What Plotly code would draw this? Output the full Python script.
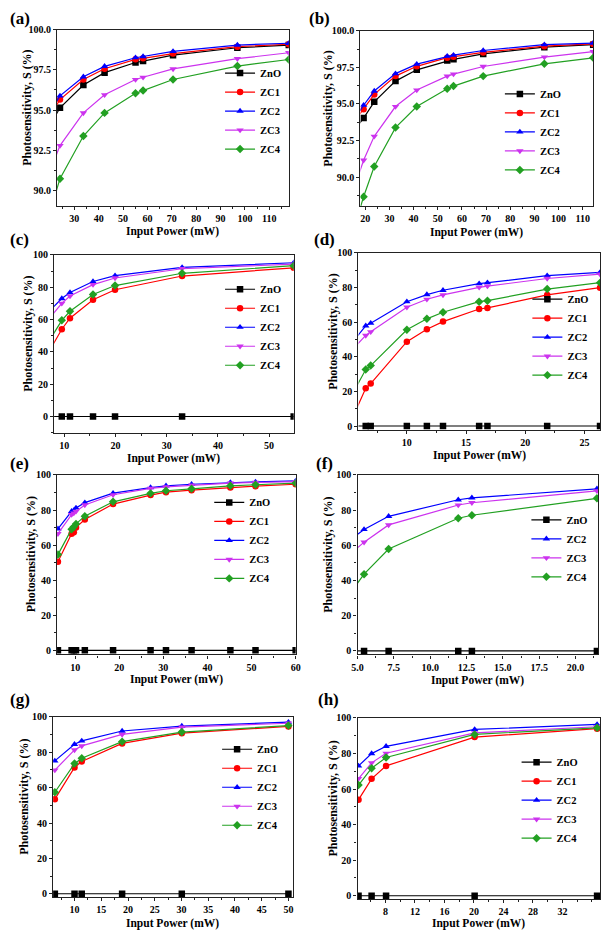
import plotly.graph_objects as go

W, H = 607, 935

series_names = ["ZnO", "ZC1", "ZC2", "ZC3", "ZC4"]
colors = ["#000000", "#FF0000", "#0000FF", "#CC33EE", "#22A022"]
symbols = ["square", "circle", "triangle-up", "triangle-down", "diamond"]

# ---- panels (a) and (b): same photosensitivity values, x read separately
power_a = [16.0, 19.9, 24.1, 33.7, 42.4, 55.1, 58.2, 70.5, 96.9, 118.0]
power_b = [15.5, 19.3, 23.7, 32.5, 41.3, 53.9, 56.5, 68.8, 94.1, 114.3]
s_ab_zno = [93.2, 94.03, 95.14, 96.56, 97.33, 97.96, 98.05, 98.42, 98.88, 99.05]
s_ab_zc1 = [93.8, 94.64, 95.65, 96.90, 97.57, 98.16, 98.22, 98.52, 98.95, 99.10]
s_ab_zc2 = [93.95, 94.91, 95.88, 97.07, 97.72, 98.26, 98.33, 98.65, 99.05, 99.16]
s_ab_zc3 = [89.3, 91.15, 92.78, 94.82, 95.95, 96.90, 97.04, 97.56, 98.20, 98.57]
s_ab_zc4 = [86.6, 88.65, 90.72, 93.38, 94.82, 96.04, 96.22, 96.90, 97.74, 98.15]

# ---- panel (c)
power_c = [7.0, 9.5, 11.1, 15.6, 19.9, 33.0, 54.8]
s_c_zno = [0, 0, 0, 0, 0, 0, 0]
s_c_zc1 = [40.1, 54.0, 60.8, 72.2, 78.4, 86.9, 92.0]
s_c_zc2 = [65.0, 73.0, 76.7, 83.5, 87.1, 92.2, 95.1]
s_c_zc3 = [60.5, 70.0, 74.5, 81.6, 85.7, 91.4, 94.3]
s_c_zc4 = [46.6, 59.5, 65.1, 75.5, 81.0, 88.6, 93.3]

# ---- panel (d)
power_d = [5.5, 6.53, 6.95, 10.0, 11.69, 13.05, 16.1, 16.8, 21.84, 26.3]
s_d_zno = [0, 0, 0, 0, 0, 0, 0, 0, 0, 0]
s_d_zc1 = [6.1, 21.8, 24.5, 48.7, 55.9, 60.3, 67.6, 68.2, 75.7, 79.9]
s_d_zc2 = [49.1, 57.9, 59.4, 71.8, 75.9, 78.4, 82.2, 82.8, 86.8, 88.7]
s_d_zc3 = [44.9, 52.3, 54.4, 68.6, 73.2, 75.7, 80.1, 80.8, 85.2, 87.7]
s_d_zc4 = [19.6, 32.6, 34.9, 55.6, 61.9, 65.7, 71.8, 72.4, 79.1, 82.8]

# ---- panel (e)
power_e = [6.1, 9.2, 9.7, 10.2, 12.2, 18.6, 27.1, 30.6, 36.4, 45.2, 50.9, 60.0]
s_e_zno = [0, 0, 0, 0, 0, 0, 0, 0, 0, 0, 0, 0]
s_e_zc1 = [50.5, 66.5, 67.4, 70.1, 74.6, 83.4, 88.5, 90.2, 91.3, 92.8, 93.6, 94.7]
s_e_zc2 = [69.3, 79.3, 79.8, 81.2, 84.2, 89.6, 92.8, 93.8, 94.7, 95.7, 96.0, 96.6]
s_e_zc3 = [66.5, 77.4, 78.3, 79.3, 82.9, 88.7, 92.3, 93.2, 94.2, 95.3, 95.7, 96.2]
s_e_zc4 = [54.6, 69.1, 70.4, 72.1, 76.5, 84.7, 89.5, 91.0, 92.1, 93.8, 94.4, 95.3]

# ---- panel (f)  (no ZC1 data shown)
power_f = [4.5, 5.45, 7.14, 11.93, 12.87, 21.47]
s_f_zno = [0, 0, 0, 0, 0, 0]
s_f_zc1 = []
s_f_zc2 = [63.1, 69.0, 76.5, 85.9, 87.0, 92.1]
s_f_zc3 = [55.0, 61.8, 71.6, 82.9, 84.2, 91.0]
s_f_zc4 = [32.8, 43.6, 57.9, 75.4, 77.1, 86.7]

# ---- panel (g)
power_g = [6.32, 10.0, 11.35, 18.9, 30.06, 50.0]
s_g_zno = [0, 0, 0, 0, 0, 0]
s_g_zc1 = [53.5, 71.4, 74.8, 85.0, 90.8, 94.6]
s_g_zc2 = [75.1, 84.5, 86.4, 92.0, 94.8, 97.0]
s_g_zc3 = [69.9, 81.3, 83.6, 90.1, 94.2, 96.4]
s_g_zc4 = [57.4, 73.6, 76.6, 86.0, 91.4, 95.1]

# ---- panel (h)
power_h = [4.36, 6.13, 8.09, 20.1, 36.7]
s_h_zno = [0, 0, 0, 0, 0]
s_h_zc1 = [54.0, 65.7, 73.0, 89.2, 93.9]
s_h_zc2 = [73.0, 79.9, 84.0, 93.5, 96.3]
s_h_zc3 = [65.9, 74.7, 80.1, 91.6, 95.0]
s_h_zc4 = [62.2, 71.7, 77.7, 90.7, 94.4]
ticks_h = [8, 12, 16, 20, 24, 28, 32]

panel_labels = ["(a)", "(b)", "(c)", "(d)", "(e)", "(f)", "(g)", "(h)"]
x_title = "Input Power (mW)"
y_title = "Photosensitivity, S (%)"

panels = [
    dict(x=power_a, ys=[s_ab_zno, s_ab_zc1, s_ab_zc2, s_ab_zc3, s_ab_zc4]),
    dict(x=power_b, ys=[s_ab_zno, s_ab_zc1, s_ab_zc2, s_ab_zc3, s_ab_zc4]),
    dict(x=power_c, ys=[s_c_zno, s_c_zc1, s_c_zc2, s_c_zc3, s_c_zc4]),
    dict(x=power_d, ys=[s_d_zno, s_d_zc1, s_d_zc2, s_d_zc3, s_d_zc4]),
    dict(x=power_e, ys=[s_e_zno, s_e_zc1, s_e_zc2, s_e_zc3, s_e_zc4]),
    dict(x=power_f, ys=[s_f_zno, s_f_zc1, s_f_zc2, s_f_zc3, s_f_zc4]),
    dict(x=power_g, ys=[s_g_zno, s_g_zc1, s_g_zc2, s_g_zc3, s_g_zc4]),
    dict(x=power_h, ys=[s_h_zno, s_h_zc1, s_h_zc2, s_h_zc3, s_h_zc4], xticks=ticks_h),
]

# layout (pixels): plot box x0, x1, ytop, ybot
boxes = [
    (52, 288, 24, 202), (361, 598, 25, 202),
    (49, 293, 251, 431), (359, 605, 249, 428),
    (52, 295, 473, 654), (358, 603, 473, 654),
    (48, 292, 717, 899), (358, 605, 718, 901),
]
# centre (px, from top) of the x-axis title of each panel
xtitle_y = [227, 228, 456, 453, 679, 680, 925, 925]
# centre x (px) of the y-axis title of each panel
ytitle_x = [22, 328, 23, 333, 25, 328, 19, 333]
# axis settings: x range, x dtick, y range, y dtick, x fmt, y fmt
axes_cfg = [
    ([22.9, 118.0], 10, [89, 100], 2.5, "", ".1f"),
    ([18.0, 114.3], 10, [88, 100], 2.5, "", ".1f"),
    ([8.0, 54.8], 10, [-10.4, 100], 20, "", ""),
    ([5.92, 26.3], 5, [-2.5, 100], 20, "", ""),
    ([5.9, 60.0], 10, [-2.3, 100], 20, "", ""),
    ([5.0, 21.55], 2.5, [-2.0, 100], 20, ".1f", ""),
    ([6.0, 50.8], 5, [-2.0, 100], 20, "", ""),
    ([4.22, 37.1], 4, [-2.0, 100], 20, "", ""),
]
# legend: text start x, middle entry center y (px)
legend_pos = [(258, 106), (543, 127), (258, 324), (571, 334),
              (247, 539), (570, 547), (255, 788), (560, 801)]
label_pos = [(2, 13), (307, 13), (2, 236), (312, 236),
             (2, 461), (314, 461), (2, 699), (316, 699)]

FONT = "Liberation Serif"
fig = go.Figure()
layout = dict(
    width=W, height=H, margin=dict(l=0, r=0, t=0, b=0),
    paper_bgcolor="white", plot_bgcolor="white",
    font=dict(family=FONT, color="black"),
    annotations=[],
)

for k, p in enumerate(panels):
    xa = "x" if k == 0 else f"x{k+1}"
    ya = "y" if k == 0 else f"y{k+1}"
    lg = "legend" if k == 0 else f"legend{k+1}"
    for i, name in enumerate(series_names):
        yv = p["ys"][i]
        xv = p["x"][:len(yv)]
        fig.add_trace(go.Scatter(
            x=xv, y=yv, name=name, mode="lines+markers",
            xaxis=xa, yaxis=ya, legend=lg,
            line=dict(color=colors[i], width=1.2),
            marker=dict(symbol=symbols[i], size=6.5, color=colors[i]),
        ))
    x0, x1, yt, yb = boxes[k]
    xr, xd, yr, yd, xf, yf = axes_cfg[k]
    common = dict(
        showline=True, linecolor="#222", linewidth=1.3, mirror=True,
        ticks="outside", ticklen=3, tickwidth=1.2, tickcolor="#222",
        showgrid=False, zeroline=False,
        tickfont=dict(family=FONT, size=10, weight="bold", color="black"),
    )
    xkey = "xaxis" if k == 0 else f"xaxis{k+1}"
    ykey = "yaxis" if k == 0 else f"yaxis{k+1}"
    xdict = dict(
        common, domain=[x0 / W, x1 / W], range=xr, dtick=xd, tick0=0,
        tickformat=xf, anchor=ya,
        minor=dict(ticks="outside", ticklen=2, tickwidth=1, tickcolor="#222",
                   tickmode="linear", dtick=xd / 2, tick0=0),
    )
    if "xticks" in p:
        xdict.update(tickmode="array", tickvals=p["xticks"])
    layout[xkey] = xdict
    layout[ykey] = dict(
        common, domain=[1 - yb / H, 1 - yt / H], range=yr, dtick=yd, tick0=0,
        tickformat=yf, anchor=xa,
        minor=dict(ticks="outside", ticklen=2, tickwidth=1, tickcolor="#222", dtick=yd / 2, tick0=0),
    )
    # axis titles placed as text next to the axes
    layout["annotations"].append(dict(
        text=x_title, x=(x0 + x1) / 2 / W, y=1 - xtitle_y[k] / H,
        xref="paper", yref="paper", xanchor="center", yanchor="middle",
        showarrow=False, font=dict(family=FONT, size=11.5, weight="bold", color="black"),
    ))
    layout["annotations"].append(dict(
        text=y_title, x=ytitle_x[k] / W, y=1 - ((yt + yb) / 2 - 10) / H,
        xref="paper", yref="paper", xanchor="center", yanchor="middle", textangle=-90,
        showarrow=False, font=dict(family=FONT, size=12, weight="bold", color="black"),
    ))
    tx, my = legend_pos[k]
    layout[lg] = dict(
        x=(tx - 40) / W, y=1 - my / H, xanchor="left", yanchor="middle",
        bgcolor="rgba(0,0,0,0)", borderwidth=0, itemwidth=30, tracegroupgap=0,
        font=dict(family=FONT, size=10.5, weight="bold", color="black"),
    )
    lx, ly = label_pos[k]
    layout["annotations"].append(dict(
        text=panel_labels[k], x=lx / W, y=1 - ly / H, xref="paper", yref="paper",
        xanchor="left", yanchor="middle", showarrow=False,
        font=dict(family=FONT, size=17, weight="bold", color="black"),
    ))

fig.update_layout(**layout)
fig.write_html(
    "out.html",
    config={"displayModeBar": False},
    post_script="document.body.style.margin='0px';document.body.style.padding='0px';"
                "document.body.style.overflow='hidden';",
)
